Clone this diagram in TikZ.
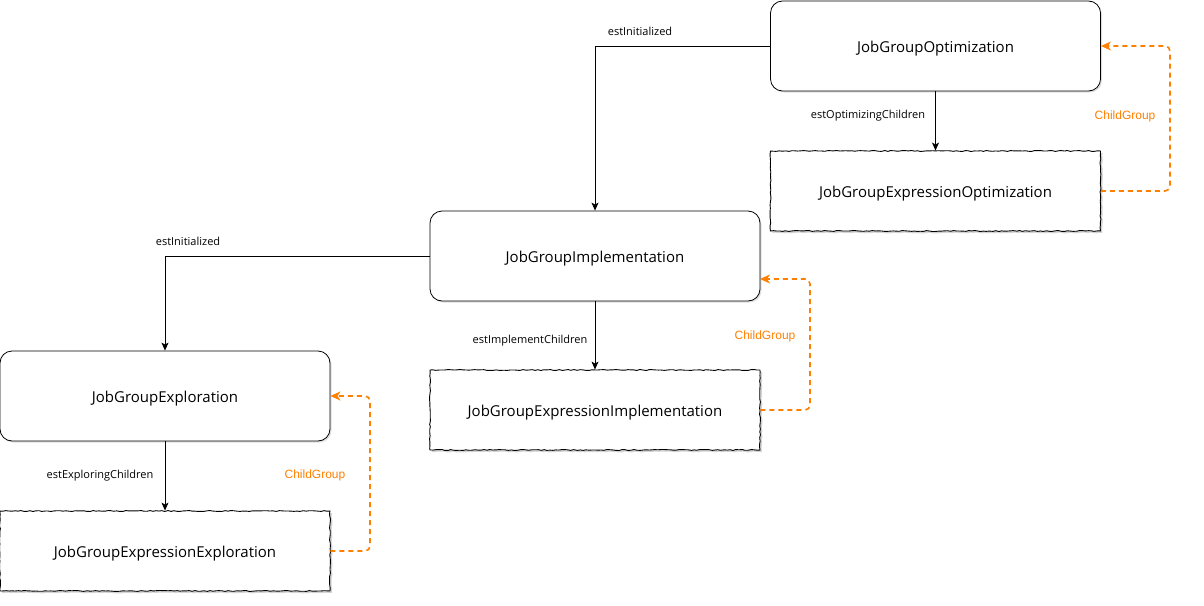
\documentclass[tikz,border=0pt]{standalone}
\usepackage{fontspec}
\setmainfont{Open Sans}
\newfontfamily\lblfont{Liberation Sans}
\usetikzlibrary{arrows.meta,decorations.pathmorphing,shadows}
\begin{document}
\begin{tikzpicture}[x=1pt,y=-1pt,
  state/.style={draw=black,line width=0.8pt,rounded corners=12pt,fill=white,
    minimum width=330pt,minimum height=90pt,inner sep=0pt,font=\fontsize{15}{17}\selectfont,
    text height=13pt,text depth=0pt,
    drop shadow={shadow xshift=1.5pt,shadow yshift=-1.5pt,opacity=0.25}},
  sketch/.style={draw=black,line width=0.9pt,fill=white,
    minimum width=330pt,minimum height=80pt,inner sep=0pt,font=\fontsize{15}{17}\selectfont,
    text height=13pt,text depth=0pt,
    decorate,decoration={random steps,segment length=3pt,amplitude=0.5pt},
    drop shadow={shadow xshift=2pt,shadow yshift=-2pt,opacity=0.35}},
  flow/.style={draw=black,line width=0.7pt,-{Stealth[length=8pt,width=7pt,inset=2pt]}},
  child/.style={draw={rgb,255:red,255;green,128;blue,0},line width=1.6pt,dash pattern=on 5pt off 4pt,
    rounded corners=5pt,-{Stealth[length=10pt,width=9pt,inset=3pt]}},
  elabel/.style={font=\fontsize{11}{13}\selectfont,inner sep=1pt},
  clabel/.style={font=\lblfont\fontsize{12}{14}\selectfont,text={rgb,255:red,255;green,128;blue,0},inner sep=1pt}]
\useasboundingbox (0,0) rectangle (1204,605);
\node[state] (jgo) at (935.5,46) {JobGroupOptimization};
\node[sketch] (jgeo) at (935.5,191) {JobGroupExpressionOptimization};
\node[state] (jgi) at (595,256) {JobGroupImplementation};
\node[sketch] (jgei) at (595,410) {JobGroupExpressionImplementation};
\node[state] (jge) at (165,396) {JobGroupExploration};
\node[sketch] (jgee) at (165,551) {JobGroupExpressionExploration};

\coordinate (c1) at (595,46);
\draw[flow] (jgo.west) -- (c1) -- (jgi.north);
\node[elabel] (l1) at (640,31) {estInitialized};
\draw[flow] (jgo.south) -- (jgeo.north);
\node[elabel] (l2) at (868,116) {estOptimizingChildren};
\coordinate (c2) at (165,256);
\draw[flow] (jgi.west) -- (c2) -- (jge.north);
\node[elabel] (l3) at (188,241) {estInitialized};
\draw[flow] (jgi.south) -- (jgei.north);
\node[elabel] (l4) at (530,341) {estImplementChildren};
\draw[flow] (jge.south) -- (jgee.north);
\node[elabel] (l5) at (100,476) {estExploringChildren};

\coordinate (d1) at (1170,191);
\coordinate (d2) at (1170,46);
\draw[child] (jgeo.east) -- (d1) -- (d2) -- (jgo.east);
\node[clabel] (k1) at (1125,116) {ChildGroup};
\coordinate (d3) at (810,410);
\coordinate (d4) at (810,279);
\coordinate (e4) at (760,279);
\draw[child] (jgei.east) -- (d3) -- (d4) -- (e4);
\node[clabel] (k2) at (765,336) {ChildGroup};
\coordinate (d5) at (370,551);
\coordinate (d6) at (370,396);
\draw[child] (jgee.east) -- (d5) -- (d6) -- (jge.east);
\node[clabel] (k3) at (315,475) {ChildGroup};
\end{tikzpicture}
\end{document}
